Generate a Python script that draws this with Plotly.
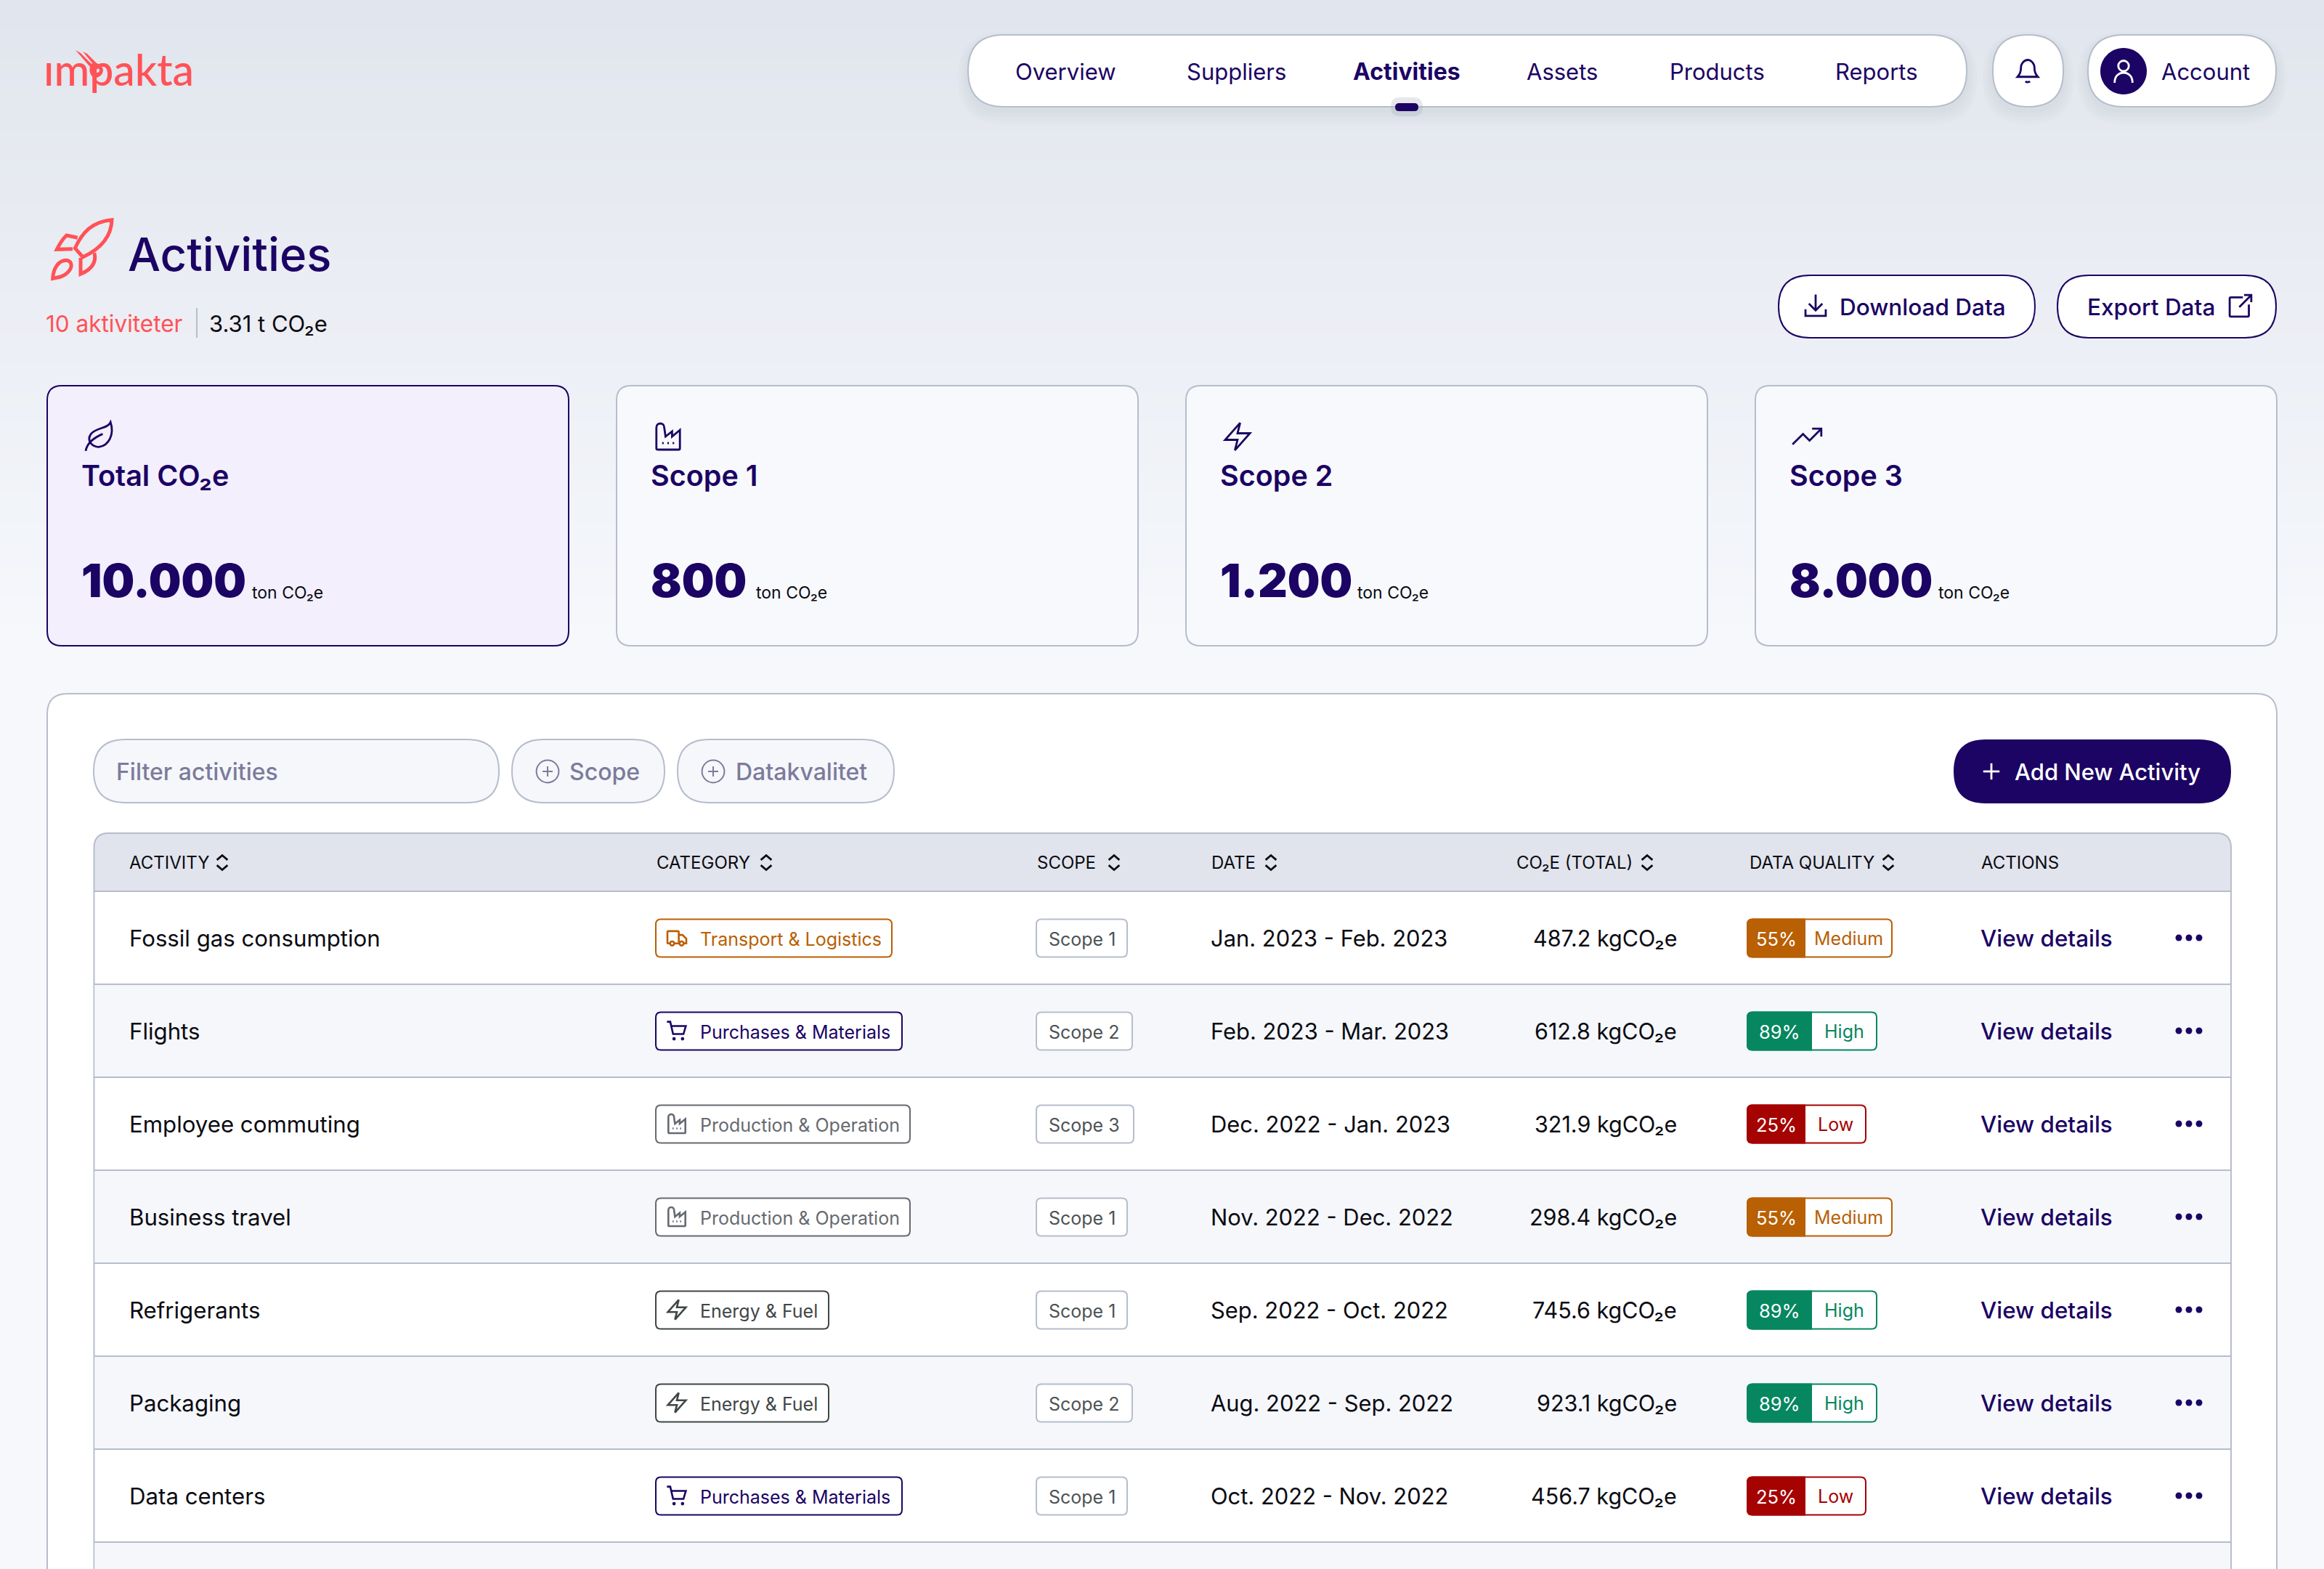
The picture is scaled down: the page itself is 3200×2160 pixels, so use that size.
import re
import plotly.graph_objects as go

# ---------- data ----------
NAV_ITEMS = ["Overview", "Suppliers", "Activities", "Assets", "Products", "Reports"]
CARD_TITLES = ["Total CO₂e", "Scope 1", "Scope 2", "Scope 3"]
CARD_VALUES = ["10.000", "800", "1.200", "8.000"]
CARD_ICONS = ["leaf", "factory", "zap", "trend"]
COLUMNS = ["ACTIVITY", "CATEGORY", "SCOPE", "DATE", "CO₂E (TOTAL)", "DATA QUALITY", "ACTIONS"]
ACTIVITIES = ["Fossil gas consumption", "Flights", "Employee commuting", "Business travel",
              "Refrigerants", "Packaging", "Data centers"]
CATEGORIES = ["Transport & Logistics", "Purchases & Materials", "Production & Operation",
              "Production & Operation", "Energy & Fuel", "Energy & Fuel", "Purchases & Materials"]
SCOPES = ["Scope 1", "Scope 2", "Scope 3", "Scope 1", "Scope 1", "Scope 2", "Scope 1"]
DATES = ["Jan. 2023 - Feb. 2023", "Feb. 2023 - Mar. 2023", "Dec. 2022 - Jan. 2023",
         "Nov. 2022 - Dec. 2022", "Sep. 2022 - Oct. 2022", "Aug. 2022 - Sep. 2022",
         "Oct. 2022 - Nov. 2022"]
CO2_KG = [487.2, 612.8, 321.9, 298.4, 745.6, 923.1, 456.7]
QUALITY_PCT = [55, 89, 25, 55, 89, 89, 25]
QUALITY_LABEL = ["Medium", "High", "Low", "Medium", "High", "High", "Low"]

# ---------- style ----------
FONT = "Inter"
NAVY = "#1b0463"
CORAL = "#ff5257"
BORDER = "#b6bdcc"
INK = "#0b0b12"
MUTED = "#7d7b9b"
ALT = "#f5f7fb"
ORANGE = "#b95f04"
GREEN = "#06875f"
RED = "#a50202"
SLATE = "#3f4746"
GREY = "#666a70"

NAV_X = [1467, 1702, 1937, 2151, 2364, 2584]
CARD_X = [65, 849, 1633, 2417]
CARD_UNIT_DX = [282, 192, 236, 252]
COL_X = [178, 904, 1428, 1668, 2088, 2409, 2728]
SORT_X = [306, 1055, 1534, 1750, 2268, 2600]
CAT_STYLE = {
    "Transport & Logistics": (325, ORANGE, ORANGE, "truck"),
    "Purchases & Materials": (339, NAVY, NAVY, "cart"),
    "Production & Operation": (350, GREY, GREY, "factory"),
    "Energy & Fuel": (238, SLATE, SLATE, "zap"),
}
SCOPE_W = {"Scope 1": 125, "Scope 2": 132, "Scope 3": 134}
QUAL_STYLE = {"Medium": (ORANGE, 79, 199), "High": (GREEN, 88, 178), "Low": (RED, 79, 163)}

HDR_TOP, HDR_BOT, ROW_H = 1147, 1227, 128
TBL_L, TBL_R = 129.5, 3072

shapes, ann = [], []


def rrect(x0, y0, x1, y1, r, tl=True, tr=True, br=True, bl=True):
    r = min(r, (x1 - x0) / 2, (y1 - y0) / 2)
    p = f"M{x0 + (r if tl else 0)} {y0} L{x1 - (r if tr else 0)} {y0} "
    p += f"Q{x1} {y0} {x1} {y0 + r} " if tr else ""
    p += f"L{x1} {y1 - (r if br else 0)} "
    p += f"Q{x1} {y1} {x1 - r} {y1} " if br else ""
    p += f"L{x0 + (r if bl else 0)} {y1} "
    p += f"Q{x0} {y1} {x0} {y1 - r} " if bl else ""
    p += f"L{x0} {y0 + (r if tl else 0)} "
    p += f"Q{x0} {y0} {x0 + r} {y0} " if tl else ""
    return p + "Z"


def add_path(path, fill=None, line=None, lw=2, opacity=None):
    s = dict(type="path", path=path, xref="x", yref="y", layer="below",
             line=dict(color=line or "rgba(0,0,0,0)", width=lw if line else 0))
    if fill:
        s["fillcolor"] = fill
    if opacity is not None:
        s["opacity"] = opacity
    shapes.append(s)


def box(x0, y0, x1, y1, r, fill=None, line=None, lw=2, **corners):
    add_path(rrect(x0, y0, x1, y1, r, **corners), fill, line, lw)


def shadow(x0, y0, x1, y1, r):
    for grow, dy in ((14, 10), (10, 9), (6, 8), (3, 6)):
        add_path(rrect(x0 - grow, y0 - grow + dy, x1 + grow, y1 + grow + dy, r + grow),
                 fill="#9aa3b8", opacity=0.035)


def text(s, x, y, size, color=INK, weight=400, anchor="left", family=FONT):
    ann.append(dict(text=s, x=x, y=y, xref="x", yref="y", showarrow=False, xanchor=anchor,
                    yanchor="middle", borderpad=0, borderwidth=0,
                    font=dict(family=family, size=size, color=color, weight=weight)))


def circ24(cx, cy, r):
    k = 0.552 * r
    return (f"M{cx - r} {cy} C{cx - r} {cy - k} {cx - k} {cy - r} {cx} {cy - r} "
            f"C{cx + k} {cy - r} {cx + r} {cy - k} {cx + r} {cy} "
            f"C{cx + r} {cy + k} {cx + k} {cy + r} {cx} {cy + r} "
            f"C{cx - k} {cy + r} {cx - r} {cy + k} {cx - r} {cy} Z")


ICONS = {
    "leaf": ["M21 1 C19 6 10 5 6 10 C2 16 8 20 12 20 C20 19 24 10 21 1 Z", "M2 23 C3 17 8 13 15 10"],
    "factory": ["M3 21 L3 5 C3 1 9 1 9 5 L10 12 L15 8 L15 12 L21 7 L21 21 C21 22 21 22 20 22 L5 22 C3 22 3 22 3 21 Z",
                "M7.4 17 L8.6 17", "M11.4 17 L12.6 17", "M15.4 17 L16.6 17"],
    "zap": ["M14 1.5 L2.5 14.5 L12 14.5 L10 22.5 L21.5 9.5 L12 9.5 Z"],
    "trend": ["M1 18 L9 10 L14 15 L23 6", "M16 6 L23 6 L23 12"],
    "truck": ["M14 17 L14 6 C14 5 14 5 13 5 L3 5 C2 5 2 5 2 6 L2 17 C2 18 2 18 3 18 L5 18", "M9 18 L15 18",
              "M14 9 L18 9 L22 13 L22 18 L19 18", circ24(7, 18, 2.2), circ24(17, 18, 2.2)],
    "cart": ["M1.5 2.5 L5 2.5 L8 15.5 L19 15.5 L21.5 7 L6 7", circ24(9, 20.5, 0.8), circ24(18, 20.5, 0.8)],
    "bell": ["M3 17 C5 15 6 13 6 9 C6 5 9 2 12 2 C15 2 18 5 18 9 C18 13 19 15 21 17 Z", "M10 21 C11 22 13 22 14 21"],
    "person": [circ24(12, 7, 5), "M3.5 23 C3.5 16 8 13.5 12 13.5 C16 13.5 20.5 16 20.5 23"],
    "download": ["M12 2 L12 16", "M6 10 L12 16 L18 10", "M3 15 L3 21 L21 21 L21 15"],
    "export": ["M14 5 L4 5 C3 5 3 5 3 6 L3 20 C3 21 3 21 4 21 L18 21 C19 21 19 21 19 20 L19 11",
               "M11 13 L21 3", "M15 3 L21 3 L21 9"],
    "sortup": ["M5 9 L12 3 L19 9"],
    "sortdown": ["M5 15 L12 21 L19 15"],
    "plus": ["M12 5 L12 19", "M5 12 L19 12"],
    "pluscircle": [circ24(12, 12, 11), "M12 7 L12 17", "M7 12 L17 12"],
}


def icon(name, cx, cy, scale, color, lw=2.5):
    def tr(m):
        return f"{cx + (float(m.group(1)) - 12) * scale:.2f} {cy + (float(m.group(2)) - 12) * scale:.2f}"
    for p in ICONS[name]:
        add_path(re.sub(r"(-?[\d.]+) (-?[\d.]+)", tr, p), line=color, lw=lw)


# ---------- page background ----------
N = 45
for i in range(N):
    t = i / (N - 1)
    c = [round(a + (b - a) * t) for a, b in zip((225, 229, 237), (246, 248, 252))]
    add_path(f"M0 {i * 20} L3200 {i * 20} L3200 {(i + 1) * 20 + 1} L0 {(i + 1) * 20 + 1} Z", fill=f"rgb({c[0]},{c[1]},{c[2]})")
add_path("M0 900 L3200 900 L3200 2160 L0 2160 Z", fill="#f6f8fc")

# ---------- logo ----------
text("ımpakta", 60, 95, 59, CORAL, 500, family="Lato")
add_path("M104 69 L111 73 L126 88 C130 85 140 88 142 96 C142 104 134 109 128 106 C123 102 123 96 124 92 Z",
         fill=CORAL)
add_path("M114 71 L120 74 L134 88 L128 88 Z", fill=CORAL)
add_path(circ24(134, 97, 3), fill="#e3e6ee")

# ---------- nav ----------
for (x0, x1) in ((1333, 2708), (2744, 2841), (2875, 3134)):
    shadow(x0, 48, x1, 147, 50)
    box(x0, 48, x1, 147, 50, fill="#ffffff", line=BORDER)
for name, x in zip(NAV_ITEMS, NAV_X):
    active = name == "Activities"
    text(name, x, 98, 32 if active else 31, NAVY, 700 if active else 400, "center")
box(1915, 134, 1959, 160, 13, fill="#9aa3b8")
shapes[-1]["opacity"] = 0.25
box(1921, 142, 1953, 153, 5.5, fill=NAVY)
icon("bell", 2792, 98, 1.55, NAVY, 2.8)
add_path(circ24(2924, 98, 32), fill=NAVY)
icon("person", 2924, 98, 1.45, "#ffffff", 2.8)
text("Account", 3037, 98, 31, NAVY, 400, "center")

# ---------- heading ----------
HR = 1 / 3


def rk(*pts):
    return " ".join(f"{50 + x * HR:.1f} {280 + y * HR:.1f}" for x, y in pts)


add_path(f"M{rk((312, 68))} C{rk((230, 75), (190, 120), (160, 185))} L{rk((192, 222))} C{rk((260, 190), (310, 140), (312, 68))} Z", line=CORAL, lw=5)
add_path(f"M{rk((170, 142))} L{rk((125, 132))} Q{rk((105, 150), (85, 190))} L{rk((150, 188))}", line=CORAL, lw=5)
add_path(f"M{rk((240, 205))} C{rk((248, 240), (235, 270), (183, 292))} L{rk((183, 225))}", line=CORAL, lw=5)
add_path(f"M{rk((68, 310))} C{rk((70, 270), (90, 235), (125, 235))} C{rk((150, 240), (150, 265), (130, 285))} C{rk((110, 305), (90, 305), (68, 310))} Z", line=CORAL, lw=5)
text("Activities", 176, 349, 63.5, NAVY, 500)
text("10 aktiviteter", 63, 445, 31.5, CORAL)
add_path("M271 424 L271 465", line=BORDER, lw=2)
text("3.31 t CO₂e", 288, 445, 31, INK)

# ---------- action buttons ----------
box(2449, 379, 2802, 465, 44, fill="#ffffff", line=NAVY)
icon("download", 2500, 421, 1.55, NAVY, 2.8)
text("Download Data", 2533, 422, 31.5, NAVY, 500)
box(2833, 379, 3134, 465, 44, fill="#ffffff", line=NAVY)
text("Export Data", 2874, 422, 31.5, NAVY, 500)
icon("export", 3085, 421, 1.65, NAVY, 2.8)

# ---------- summary cards ----------
for i, (ttl, val, ic, x, dx) in enumerate(zip(CARD_TITLES, CARD_VALUES, CARD_ICONS, CARD_X, CARD_UNIT_DX)):
    box(x, 531, x + 718, 889, 20, fill="#f3effd" if i == 0 else "#f8f9fc", line=NAVY if i == 0 else BORDER)
    icon(ic, x + 71, 601, 1.8, NAVY, 2.8)
    text(ttl, x + 47, 655, 39.5, NAVY, 600)
    text(val, x + 47, 799, 63, NAVY, 900)
    text("ton CO₂e", x + dx, 816, 23, INK)

# ---------- panel ----------
box(65, 955, 3135, 2300, 28, fill="#ffffff", line=BORDER)
box(129, 1018, 687, 1105, 44, fill=ALT, line=BORDER)
text("Filter activities", 160, 1062, 32, MUTED, 500)
box(705, 1018, 915, 1105, 44, fill=ALT, line=BORDER)
icon("pluscircle", 754, 1062, 1.4, MUTED, 2)
text("Scope", 784, 1062, 32, MUTED, 500)
box(933, 1018, 1231, 1105, 44, fill=ALT, line=BORDER)
icon("pluscircle", 982, 1062, 1.4, MUTED, 2)
text("Datakvalitet", 1013, 1062, 32, MUTED, 500)
box(2690, 1018, 3072, 1106, 44, fill=NAVY)
icon("plus", 2742, 1062, 1.6, "#ffffff", 2.8)
text("Add New Activity", 2774, 1062, 31, "#ffffff", 500)

# ---------- table ----------
box(TBL_L, HDR_TOP, TBL_R, HDR_BOT, 20, fill="#e1e4ec", br=False, bl=False)
add_path(rrect(TBL_L, HDR_TOP, TBL_R, 2300, 20), line=BORDER)
for name, x in zip(COLUMNS, COL_X):
    text(name, x, 1187, 24, INK, 400)
for x in SORT_X:
    icon("sortup", x, 1187, 1.05, INK, 2.8)
    icon("sortdown", x, 1188, 1.05, INK, 2.8)

n = len(ACTIVITIES)
for i in range(n + 1):
    top = HDR_BOT + i * ROW_H
    if i % 2 == 1:
        add_path(f"M{TBL_L + 1} {top} L{TBL_R - 1} {top} L{TBL_R - 1} {top + ROW_H} L{TBL_L + 1} {top + ROW_H} Z", fill=ALT)
    add_path(f"M{TBL_L} {top} L{TBL_R} {top}", line=BORDER, lw=2)

dots_x, dots_y = [], []
for i, (act, cat, sc, dt, kg, pct, ql) in enumerate(zip(ACTIVITIES, CATEGORIES, SCOPES, DATES, CO2_KG, QUALITY_PCT, QUALITY_LABEL)):
    cy = HDR_BOT + i * ROW_H + ROW_H / 2
    text(act, COL_X[0], cy + 1, 31.2, INK)
    w, tc, bc, ic = CAT_STYLE[cat]
    box(903, cy - 25.5, 903 + w, cy + 26.5, 7, fill="#ffffff", line=bc)
    icon(ic, 932, cy, 1.3, tc, 2.6)
    text(cat, 964, cy + 1.5, 25, tc)
    box(1427, cy - 25.5, 1427 + SCOPE_W[sc], cy + 26.5, 7, fill="#ffffff", line=BORDER)
    text(sc, 1444, cy + 1.5, 25, "#4d5355")
    text(dt, COL_X[3] - 1, cy + 0.5, 30.9, INK)
    text(f"{kg} kgCO₂e", 2309, cy + 0.5, 30.5, INK, 400, "right")
    qc, qw, qt = QUAL_STYLE[ql]
    box(2406, cy - 25.5, 2406 + qt, cy + 26.5, 7, fill="#ffffff", line=qc)
    box(2406, cy - 25.5, 2406 + qw, cy + 26.5, 7, fill=qc, line=qc, tr=False, br=False)
    text(f"{pct}%", 2406 + qw / 2, cy + 1, 25.5, "#ffffff", 400, "center")
    text(ql, 2406 + qw + (qt - qw) / 2, cy + 1, 25, qc, 400, "center")
    text("View details", 2727, cy + 0.5, 31.4, NAVY, 500)
    for d in (-14, 0, 14):
        dots_x.append(3014 + d)
        dots_y.append(cy)

fig = go.Figure(go.Scatter(x=dots_x, y=dots_y, mode="markers", hoverinfo="skip",
                           marker=dict(size=9, color=NAVY), showlegend=False))
fig.update_layout(
    width=3200, height=2160, margin=dict(l=0, r=0, t=0, b=0, pad=0),
    paper_bgcolor="#f6f8fc", plot_bgcolor="rgba(0,0,0,0)",
    xaxis=dict(range=[0, 3200], visible=False, fixedrange=True),
    yaxis=dict(range=[2160, 0], visible=False, fixedrange=True),
    shapes=shapes, annotations=ann, showlegend=False,
)
fig.write_html("out.html", config={"displayModeBar": False},
               post_script="document.body.style.margin='0';document.body.style.overflow='hidden';")
